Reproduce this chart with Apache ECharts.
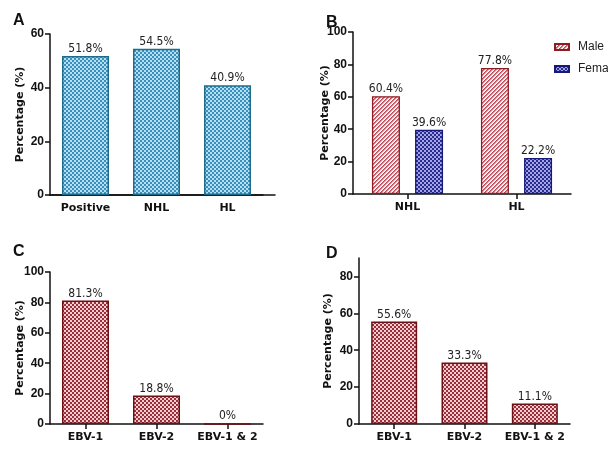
<!DOCTYPE html>
<html>
<head>
<meta charset="utf-8">
<script src="https://cdn.jsdelivr.net/npm/echarts@6/dist/echarts.min.js"></script>
<style>html,body{margin:0;padding:0;background:#fff}#c{width:608px;height:449px}</style>
</head>
<body>
<div id="c"></div>
<script>
// ---- data ----
const catsA = ['Positive', 'NHL', 'HL'];
const valsA = [51.8, 54.5, 40.9];
const catsB = ['NHL', 'HL'];
const maleB = [60.4, 77.8];
const femaleB = [39.6, 22.2];
const catsCD = ['EBV-1', 'EBV-2', 'EBV-1 & 2'];
const valsC = [81.3, 18.8, 0];
const valsD = [55.6, 33.3, 11.1];
const ticksA = [0, 20, 40, 60];
const ticksB = [0, 20, 40, 60, 80, 100];
const ticksC = [0, 20, 40, 60, 80, 100];
const ticksD = [0, 20, 40, 60, 80];
const panelLetters = ['A', 'B', 'C', 'D'];

// ---- patterns ----
function checker(light, dark) {
  const c = document.createElement('canvas');
  c.width = 4; c.height = 4;
  const g = c.getContext('2d');
  g.fillStyle = light; g.fillRect(0, 0, 4, 4);
  g.fillStyle = dark; g.fillRect(0, 0, 2, 2); g.fillRect(2, 2, 2, 2);
  return { image: c, repeat: 'repeat' };
}
function hatch(col, col2, col3) {
  const c = document.createElement('canvas');
  c.width = 4; c.height = 4;
  const g = c.getContext('2d');
  g.fillStyle = '#ffffff'; g.fillRect(0, 0, 4, 4);
  for (let x = 0; x < 4; x++) for (let y = 0; y < 4; y++) {
    const d = (x + y) % 4;
    const cc = d === 0 ? col : d === 1 ? col2 : d === 2 ? col3 : null;
    if (cc) { g.fillStyle = cc; g.fillRect(x, y, 1, 1); }
  }
  return { image: c, repeat: 'repeat' };
}
const patA = checker('#b5e0f0', '#3a8fbf');
const patRed = checker('#f2cdd0', '#9a2e3a');
const patFemale = checker('#a4a4e6', '#282c8e');
const patMale = hatch('#bd4a58', '#d27f8a', '#f3d6da');

const tickFont = { fontFamily: 'Liberation Sans', fontWeight: 'bold', fontSize: 12, color: '#111' };
const catFont = { fontFamily: 'DejaVu Sans', fontWeight: 'bold', fontSize: 11, color: '#111' };
const valFont = { fontFamily: 'DejaVu Sans Condensed, DejaVu Sans', fontSize: 12, color: '#222' };
const axisLine = { show: true, lineStyle: { color: '#111', width: 1.5 } };

function yAxis(gi, max, ticks, gap) {
  return {
    type: 'value', gridIndex: gi, min: 0, max: max, interval: 20,
    name: 'Percentage (%)', nameLocation: 'middle', nameGap: gap, nameRotate: 90,
    nameMoveOverlap: false,
    nameTextStyle: { fontFamily: 'DejaVu Sans', fontWeight: 'bold', fontSize: 11, color: '#111' },
    axisLine: axisLine,
    axisTick: { show: true, inside: false, length: 5, lineStyle: { color: '#111', width: 1.5 }, customValues: ticks },
    axisLabel: Object.assign({ margin: 6, customValues: ticks }, tickFont),
    splitLine: { show: false }
  };
}
function xAxis(gi, cats, showTick) {
  return {
    type: 'category', gridIndex: gi, data: cats,
    axisLine: axisLine,
    axisTick: { show: showTick, alignWithLabel: true, length: 5, lineStyle: { color: '#111', width: 1.5 } },
    axisLabel: Object.assign({ margin: 8, interval: 0 }, catFont),
    splitLine: { show: false }
  };
}
function lbl() {
  return Object.assign({ show: true, position: 'top', distance: 1, formatter: p => p.value + '%' }, valFont);
}

const chart = echarts.init(document.getElementById('c'), null, { renderer: 'canvas' });
chart.setOption({
  animation: false,
  backgroundColor: '#fff',
  grid: [
    { left: 50, top: 34, width: 213, height: 161 },
    { left: 353, top: 32, width: 218, height: 162 },
    { left: 50, top: 272, width: 213, height: 152 },
    { left: 359, top: 258, width: 211, height: 166 },
    { left: 50, top: 34, width: 225, height: 161 }
  ],
  xAxis: [
    xAxis(0, catsA, false),
    xAxis(1, catsB, true),
    xAxis(2, catsCD, true),
    xAxis(3, catsCD, true),
    { type: 'value', gridIndex: 4, min: 0, max: 1, axisLine: axisLine, axisTick: { show: false }, axisLabel: { show: false }, splitLine: { show: false } }
  ],
  yAxis: [
    yAxis(0, 60, ticksA, 24),
    yAxis(1, 100, ticksB, 22),
    yAxis(2, 100, ticksC, 24),
    yAxis(3, 90, ticksD, 25),
    { type: 'value', gridIndex: 4, show: false, min: 0, max: 1 }
  ],
  legend: {
    orient: 'vertical', left: 549, top: 36, itemWidth: 14, itemHeight: 6, itemGap: 10,
    icon: 'rect',
    textStyle: { fontFamily: 'Liberation Sans Narrow, Liberation Sans', fontSize: 12, color: '#222', padding: [0, 0, 0, 4] },
    data: ['Male', 'Female']
  },
  graphic: panelLetters.map((t, i) => ({
    type: 'text',
    left: [13, 326, 13, 326][i],
    top: [13, 15, 244, 246][i],
    style: { text: t, fontFamily: 'Liberation Sans', fontWeight: 'bold', fontSize: 16, fill: '#111' }
  })),
  series: [
    { type: 'bar', xAxisIndex: 0, yAxisIndex: 0, data: valsA, barWidth: 47,
      itemStyle: { color: patA, borderColor: '#1d6c8c', borderWidth: 1.5 }, label: lbl() },
    { name: 'Male', type: 'bar', xAxisIndex: 1, yAxisIndex: 1, data: maleB, barWidth: 28, barGap: '54%',
      itemStyle: { color: patMale, borderColor: '#8a1c22', borderWidth: 1.3 }, label: lbl() },
    { name: 'Female', type: 'bar', xAxisIndex: 1, yAxisIndex: 1, data: femaleB, barWidth: 28, barGap: '54%',
      itemStyle: { color: patFemale, borderColor: '#16187c', borderWidth: 1.3 }, label: lbl() },
    { type: 'bar', xAxisIndex: 2, yAxisIndex: 2, data: valsC, barWidth: 47,
      itemStyle: { color: patRed, borderColor: '#6e1014', borderWidth: 1.5 }, label: lbl() },
    { type: 'bar', xAxisIndex: 3, yAxisIndex: 3, data: valsD, barWidth: 46,
      itemStyle: { color: patRed, borderColor: '#6e1014', borderWidth: 1.5 }, label: lbl() }
  ]
});
</script>
</body>
</html>
